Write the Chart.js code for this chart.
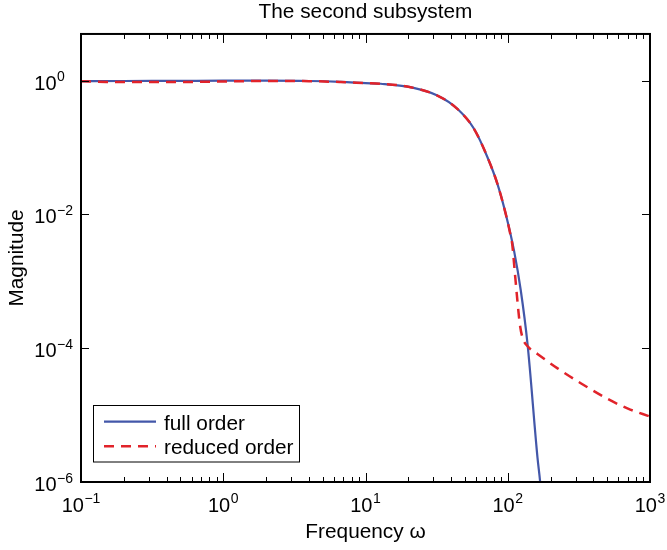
<!DOCTYPE html>
<html>
<head>
<meta charset="utf-8">
<script src="https://cdn.jsdelivr.net/npm/chart.js@4/dist/chart.umd.min.js"></script>
<style>
  html, body { margin: 0; padding: 0; background: #fff; }
  #wrap { width: 667px; height: 550px; }
</style>
</head>
<body>
<div id="wrap"><canvas id="c" width="667" height="550"></canvas></div>
<script>
// Frequency response magnitude: full-order vs reduced-order model
const chartTitle = 'The second subsystem';
const xAxisTitle = 'Frequency ω';
const yAxisTitle = 'Magnitude';
const seriesNames = ['full order', 'reduced order'];

const fullFreq = [0.1, 0.2, 0.5, 1, 2, 4, 6.7, 10, 12.8, 20.7, 32, 44.2, 57.9, 72, 84.6, 96.8, 110.7, 123.5, 137.7, 161.9, 169, 175];
const fullMag  = [0.985, 0.99, 0.995, 1.0, 1.0, 0.99, 0.96, 0.92, 0.90, 0.80, 0.60, 0.38, 0.191, 0.0718, 0.0287, 0.0102, 0.00288, 7.3e-4, 1.16e-4, 2.3e-6, 1.0e-6, 4e-7];

const reducedFreq = [0.1, 0.15, 0.3, 0.6, 1, 2, 4, 6.7, 10, 12.8, 20.7, 32, 44.2, 57.9, 72, 84.6, 96.8, 104, 107.5, 112, 116.9, 121.6, 126.9, 139, 161.8, 224, 326, 503, 700, 1000];
const reducedMag  = [0.985, 0.96, 0.955, 0.96, 0.975, 0.99, 0.985, 0.955, 0.92, 0.90, 0.80, 0.60, 0.38, 0.191, 0.0718, 0.0287, 0.0102, 5.2e-3, 3.6e-3, 1.4e-3, 5.14e-4, 2.3e-4, 1.45e-4, 1.05e-4, 8.2e-5, 5.0e-5, 3.0e-5, 1.75e-5, 1.25e-5, 9.5e-6];

const xTickValues = [0.1, 1, 10, 100, 1000];
const xTickExponents = ['−1', '0', '1', '2', '3'];
const yTickValues = [1, 1e-2, 1e-4, 1e-6];
const yTickExponents = ['0', '−2', '−4', '−6'];
const xRange = [0.1, 1000];
const yRange = [1e-6, 5];

const FAMILY = "'Liberation Sans', Arial, Helvetica, sans-serif";
const MAIN_FONT = '20px ' + FAMILY;
const TEXT_FONT = '20.8px ' + FAMILY;
const SUP_FONT = '14px ' + FAMILY;
const BLUE = '#4357A9';
const RED = '#E1232A';

function toPoints(xs, ys) {
  return xs.map((v, i) => ({ x: v, y: ys[i] }));
}

// "10" with a raised exponent; anchor 'center' centres the whole label on x,
// anchor 'right' puts the right edge of "10" at x.
function drawPower(ctx, exp, x, baseline, anchor) {
  ctx.font = MAIN_FONT;
  const wb = ctx.measureText('10').width;
  ctx.font = SUP_FONT;
  const we = ctx.measureText(exp).width;
  const gap = 0.5;
  const left = anchor === 'center' ? x - (wb + gap + we) / 2 : x - wb;
  ctx.textAlign = 'left';
  ctx.textBaseline = 'alphabetic';
  ctx.font = MAIN_FONT;
  ctx.fillText('10', left, baseline);
  ctx.font = SUP_FONT;
  ctx.fillText(exp, left + wb + gap, baseline - 8.3);
}

const framePlugin = {
  id: 'frameAndLabels',
  afterDatasetsDraw(chart) {
    const { ctx, chartArea: a, scales } = chart;
    const xs = scales.x, ys = scales.y;
    ctx.save();
    ctx.fillStyle = '#000';
    ctx.strokeStyle = '#000';

    // tick marks, pointing inward on all four sides
    ctx.lineWidth = 1;
    ctx.beginPath();
    const xMajorLen = 9, xMinorLen = 5, yMajorLen = 8;
    for (let d = xRange[0]; d < xRange[1] * 0.999; d *= 10) {
      for (let m = 1; m <= 9; m++) {
        const v = d * m;
        const px = Math.round(xs.getPixelForValue(v)) + 0.5;
        const len = m === 1 ? xMajorLen : xMinorLen;
        ctx.moveTo(px, a.bottom); ctx.lineTo(px, a.bottom - len);
        ctx.moveTo(px, a.top); ctx.lineTo(px, a.top + len);
      }
    }
    const pxEnd = Math.round(xs.getPixelForValue(xRange[1])) + 0.5;
    ctx.moveTo(pxEnd, a.bottom); ctx.lineTo(pxEnd, a.bottom - xMajorLen);
    ctx.moveTo(pxEnd, a.top); ctx.lineTo(pxEnd, a.top + xMajorLen);
    for (const v of yTickValues) {
      const py = Math.round(ys.getPixelForValue(v)) + 0.5;
      ctx.moveTo(a.left, py); ctx.lineTo(a.left + yMajorLen, py);
      ctx.moveTo(a.right, py); ctx.lineTo(a.right - yMajorLen, py);
    }
    ctx.stroke();

    // axes box
    ctx.lineWidth = 2;
    ctx.strokeRect(a.left, a.top, a.right - a.left, a.bottom - a.top);

    // tick labels
    xTickValues.forEach((v, i) => {
      drawPower(ctx, xTickExponents[i], xs.getPixelForValue(v), a.bottom + 29.7, 'center');
    });
    yTickValues.forEach((v, i) => {
      drawPower(ctx, yTickExponents[i], a.left - 24.5, ys.getPixelForValue(v) + 9, 'right');
    });

    // axis titles
    ctx.font = TEXT_FONT;
    ctx.textAlign = 'center';
    ctx.textBaseline = 'alphabetic';
    ctx.fillText(xAxisTitle, (a.left + a.right) / 2, 538);
    ctx.save();
    ctx.translate(22.7, (a.top + a.bottom) / 2);
    ctx.rotate(-Math.PI / 2);
    ctx.fillText(yAxisTitle, 0, 0);
    ctx.restore();

    // legend box
    const lx = 93.5, ly = 405.5, lw = 206, lh = 56.5;
    ctx.fillStyle = '#fff';
    ctx.fillRect(lx, ly, lw, lh);
    ctx.lineWidth = 1;
    ctx.strokeStyle = '#000';
    ctx.strokeRect(lx, ly, lw, lh);
    const rows = [421.7, 446.2];
    const baselines = [430, 454.3];
    chart.data.datasets.forEach((ds, i) => {
      ctx.save();
      ctx.strokeStyle = ds.borderColor;
      ctx.lineWidth = ds.borderWidth;
      ctx.setLineDash(ds.borderDash || []);
      ctx.beginPath();
      ctx.moveTo(104, rows[i]);
      ctx.lineTo(156, rows[i]);
      ctx.stroke();
      ctx.restore();
      ctx.fillStyle = '#000';
      ctx.font = TEXT_FONT;
      ctx.textAlign = 'left';
      ctx.fillText(ds.label, 164, baselines[i]);
    });
    ctx.restore();
  }
};

new Chart(document.getElementById('c'), {
  type: 'line',
  data: {
    datasets: [
      {
        label: seriesNames[0],
        data: toPoints(fullFreq, fullMag),
        borderColor: BLUE,
        borderWidth: 2.2,
        pointRadius: 0,
        cubicInterpolationMode: 'monotone',
        order: 1
      },
      {
        label: seriesNames[1],
        data: toPoints(reducedFreq, reducedMag),
        borderColor: RED,
        borderWidth: 2.5,
        borderDash: [10, 7],
        pointRadius: 0,
        cubicInterpolationMode: 'monotone',
        order: 0
      }
    ]
  },
  options: {
    responsive: false,
    animation: false,
    devicePixelRatio: 1,
    layout: { padding: { left: 81, right: 17, top: 0, bottom: 68 } },
    plugins: {
      legend: { display: false },
      tooltip: { enabled: false },
      title: {
        display: true,
        text: chartTitle,
        color: '#000',
        font: { family: FAMILY, size: 20.8, weight: 'normal', lineHeight: 1.2 },
        padding: { top: 0, bottom: 9 }
      }
    },
    scales: {
      x: { type: 'logarithmic', min: xRange[0], max: xRange[1], display: false },
      y: { type: 'logarithmic', min: yRange[0], max: yRange[1], display: false }
    }
  },
  plugins: [framePlugin]
});
</script>
</body>
</html>
